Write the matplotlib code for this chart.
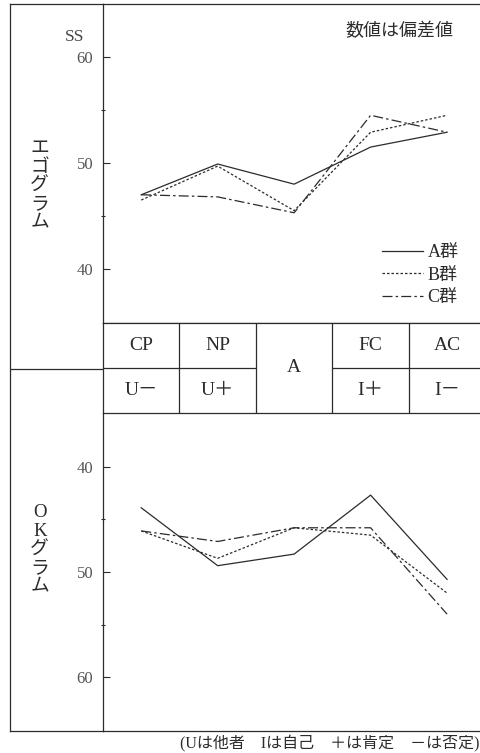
import matplotlib.pyplot as plt
from matplotlib.ticker import FixedLocator

plt.rcParams['font.family'] = ['Liberation Serif', 'Noto Sans CJK JP']

# data (偏差値)
scales = ['CP', 'NP', 'A', 'FC', 'AC']
ok_labels = ['U－', 'U＋', '', 'I＋', 'I－']
groups = ['A群', 'B群', 'C群']
ego_a = [47.0, 49.9, 48.0, 51.5, 52.9]
ego_b = [46.5, 49.7, 45.5, 52.9, 54.5]
ego_c = [47.0, 46.8, 45.3, 54.5, 52.9]
ok_a = [43.9, 49.4, 48.3, 42.7, 50.7]
ok_b = [46.1, 48.7, 45.8, 46.5, 52.0]
ok_c = [46.1, 47.1, 45.8, 45.8, 54.0]

styles = ['-', (0, (2, 1.6)), (0, (8, 2.5, 2, 2.5))]
col = '#2b2b2b'
W, H = 481, 753

fig = plt.figure(figsize=(W / 100, H / 100), dpi=100)

def box(x0, y0, x1, y1):
    # pixel box (top-left origin) -> figure fraction
    return [x0 / W, 1 - y1 / H, (x1 - x0) / W, (y1 - y0) / H]

xs = list(range(len(scales)))
xlim = (-0.5, 4.47)

# left label column / outer frame
ax_side = fig.add_axes(box(10, 4, 103, 731))
ax_side.set_xlim(0, 1)
ax_side.set_ylim(731, 4)
ax_side.set_xticks([]); ax_side.set_yticks([])
ax_side.spines['right'].set_visible(False)
for s in ax_side.spines.values():
    s.set_color(col); s.set_linewidth(0.9)
ax_side.axhline(369, color=col, lw=0.9)
ax_side.patch.set_alpha(0)
ax_side.text(0.32, 186, '\n'.join('エゴグラム'), ha='center', va='center',
             fontsize=13.5, linespacing=1.12, color=col)
ax_side.text(0.32, 550, '\n'.join(['O', 'K', 'グ', 'ラ', 'ム']), ha='center', va='center',
             fontsize=13.5, linespacing=1.12, color=col)


def style_ax(ax):
    ax.set_xlim(*xlim)
    ax.set_xticks([])
    ax.yaxis.set_major_locator(FixedLocator([40, 50, 60]))
    ax.yaxis.set_minor_locator(FixedLocator([45, 55]))
    ax.tick_params(axis='y', which='major', direction='in', length=5, width=0.8,
                   labelsize=12, labelcolor='#555', color=col, pad=7)
    ax.tick_params(axis='y', which='minor', direction='inout', length=3, width=0.8, color=col)
    for s in ax.spines.values():
        s.set_color(col); s.set_linewidth(0.9)
    ax.spines['right'].set_visible(False)
    ax.patch.set_alpha(0)


# egogram
ax_top = fig.add_axes(box(103, 4, 483, 323))
style_ax(ax_top)
ax_top.set_ylim(34.9, 65.0)
for vals, ls, g in zip([ego_a, ego_b, ego_c], styles, groups):
    ax_top.plot(xs, vals, ls=ls, color=col, lw=0.9, label=g)
ax_top.legend(loc='lower right', bbox_to_anchor=(0.955, 0.03), frameon=False,
              handlelength=2.3, handletextpad=0.25, labelspacing=0.3,
              fontsize=13, borderaxespad=0, labelcolor=col)
ax_top.text(-0.87, 61.9, 'SS', ha='center', va='center', fontsize=12.5, color='#444')
ax_top.text(3.38, 62.4, '数値は偏差値', ha='center', va='center', fontsize=13, color=col)

# table of scales
ax_tab = fig.add_axes(box(103, 323, 483, 413))
ax_tab.set_xlim(*xlim)
ax_tab.set_ylim(0, 2)
ax_tab.set_xticks([]); ax_tab.set_yticks([])
for s in ax_tab.spines.values():
    s.set_color(col); s.set_linewidth(0.9)
ax_tab.spines['right'].set_visible(False)
for i in xs[:-1]:
    ax_tab.axvline(i + 0.5, color=col, lw=0.9)
for i, (top, bot) in enumerate(zip(scales, ok_labels)):
    if bot:
        ax_tab.hlines(1, i - 0.5, i + 0.5, color=col, lw=0.9)
        ax_tab.text(i, 1.5, top, ha='center', va='center', fontsize=14, color=col)
        ax_tab.text(i, 0.5, bot, ha='center', va='center', fontsize=14, color=col)
    else:
        ax_tab.text(i, 1.0, top, ha='center', va='center', fontsize=14, color=col)

# OK gram
ax_bot = fig.add_axes(box(103, 413, 483, 731))
style_ax(ax_bot)
ax_bot.spines['top'].set_visible(False)
ax_bot.set_ylim(65.1, 34.9)
for vals, ls in zip([ok_a, ok_b, ok_c], styles):
    ax_bot.plot(xs, vals, ls=ls, color=col, lw=0.9)

fig.text(480 / W, 1 - 743 / H, '(Uは他者　Iは自己　＋は肯定　－は否定)',
         ha='right', va='center', fontsize=11.5, color=col)

fig.savefig('out.png', dpi=100)
